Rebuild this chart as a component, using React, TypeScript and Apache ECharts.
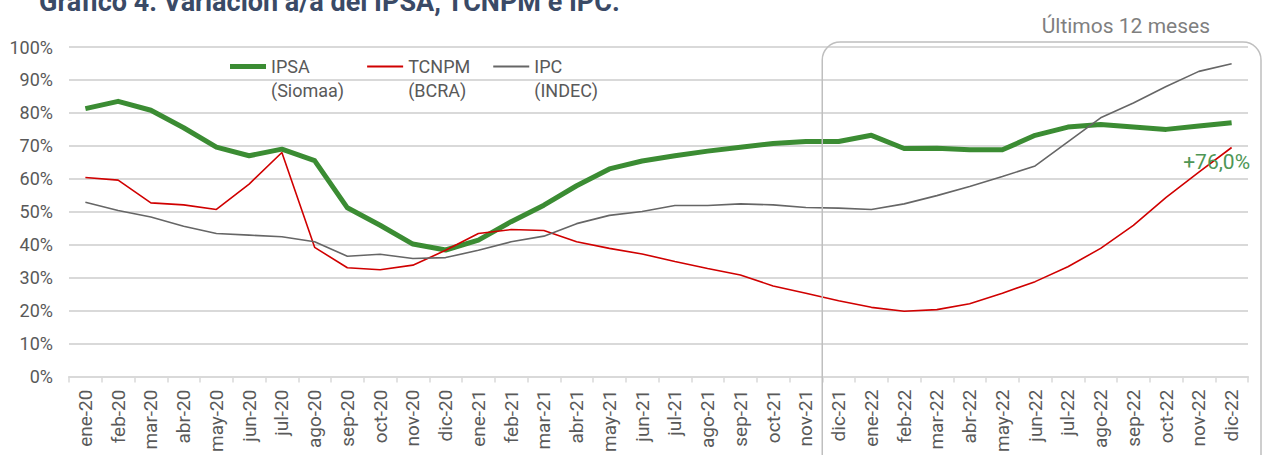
import React, { useEffect, useRef } from "react";
import * as echarts from "echarts";

const months = [
  "ene-20", "feb-20", "mar-20", "abr-20", "may-20", "jun-20", "jul-20", "ago-20", "sep-20", "oct-20", "nov-20", "dic-20",
  "ene-21", "feb-21", "mar-21", "abr-21", "may-21", "jun-21", "jul-21", "ago-21", "sep-21", "oct-21", "nov-21", "dic-21",
  "ene-22", "feb-22", "mar-22", "abr-22", "may-22", "jun-22", "jul-22", "ago-22", "sep-22", "oct-22", "nov-22", "dic-22",
];

const ipsa = [
  81.3, 83.5, 80.8, 75.5, 69.6, 67.0, 69.0, 65.5, 51.2, 45.9, 40.2, 38.4,
  41.4, 47.0, 52.0, 57.9, 63.0, 65.4, 67.0, 68.4, 69.6, 70.7, 71.3, 71.3,
  73.2, 69.2, 69.3, 68.8, 68.8, 73.2, 75.7, 76.5, 75.7, 75.0, 76.0, 77.0,
];

const tcnpm = [
  60.4, 59.6, 52.7, 52.1, 50.7, 58.4, 68.0, 39.2, 33.0, 32.4, 33.8, 38.3,
  43.4, 44.6, 44.3, 40.9, 38.9, 37.2, 34.9, 32.8, 30.8, 27.5, 25.3, 23.0,
  21.0, 19.8, 20.3, 22.1, 25.3, 28.8, 33.3, 38.9, 45.9, 54.4, 62.0, 69.5,
];

const ipc = [
  52.9, 50.4, 48.4, 45.6, 43.4, 42.9, 42.4, 40.9, 36.5, 37.1, 35.8, 36.1,
  38.3, 40.9, 42.6, 46.4, 48.9, 50.1, 51.9, 51.9, 52.4, 52.1, 51.3, 51.1,
  50.7, 52.4, 54.9, 57.7, 60.7, 63.9, 71.2, 78.5, 83.0, 88.0, 92.6, 94.9,
];

const legendNames: Record<string, string> = {
  IPSA: "IPSA\n(Siomaa)",
  TCNPM: "TCNPM\n(BCRA)",
  IPC: "IPC\n(INDEC)",
};

const titleText = "Gráfico 4: Variación a/a del IPSA, TCNPM e IPC.";
const boxText = "Últimos 12 meses";
const endLabel = "+76,0%";

const GREEN = "#3B8C33";
const RED = "#D00000";
const GRAY = "#666666";
const TXT = "#595959";
const GRID = "#D9D9D9";
const FONT = "Roboto";

export default function App() {
  const ref = useRef<HTMLDivElement>(null);

  useEffect(() => {
    const chart = echarts.init(ref.current!, null, { renderer: "svg" });
    const option: any = {
      animation: false,
      grid: { left: 69, right: 16, top: 47, bottom: 76 },
      legend: {
        left: 225,
        top: 49,
        itemWidth: 36,
        itemHeight: 46,
        itemGap: 23,
        symbolKeepAspect: false,
        itemStyle: { borderWidth: 0 },
        textStyle: { fontSize: 18, color: TXT, lineHeight: 24, fontFamily: FONT },
        formatter: (n: string) => legendNames[n] || n,
        data: [
          { name: "IPSA", icon: "path://M0,0M36,46M0,9H36V14H0Z" },
          { name: "TCNPM", icon: "path://M0,0M36,46M0,10.5H36V12.5H0Z" },
          { name: "IPC", icon: "path://M0,0M36,46M0,10.5H36V12.5H0Z" },
        ],
      },
      xAxis: {
        type: "category",
        data: months,
        boundaryGap: true,
        axisLine: { lineStyle: { color: GRID, width: 2 } },
        axisTick: { show: true, length: 6, lineStyle: { color: GRID, width: 1.5 } },
        axisLabel: {
          interval: 0,
          rotate: 90,
          margin: 13,
          fontSize: 19,
          color: TXT,
          fontFamily: FONT,
        },
      },
      yAxis: {
        type: "value",
        min: 0,
        max: 100,
        interval: 10,
        axisLine: { show: false },
        axisTick: { show: false },
        splitLine: { lineStyle: { color: GRID, width: 2 } },
        axisLabel: {
          formatter: "{value}%",
          fontSize: 18,
          color: TXT,
          margin: 16,
          fontFamily: FONT,
        },
      },
      series: [
        {
          name: "IPSA",
          type: "line",
          data: ipsa,
          symbol: "none",
          color: GREEN,
          lineStyle: { width: 5, color: GREEN, join: "round" },
          markPoint: {
            symbol: "circle",
            symbolSize: 1,
            itemStyle: { color: "rgba(0,0,0,0)" },
            data: [{ coord: [months[months.length - 1], ipsa[ipsa.length - 1]] }],
            label: {
              show: true,
              formatter: endLabel,
              position: "bottom",
              offset: [-15, 23],
              color: "#4E9655",
              fontSize: 21,
              fontFamily: FONT,
            },
          },
        },
        {
          name: "TCNPM",
          type: "line",
          data: tcnpm,
          symbol: "none",
          color: RED,
          lineStyle: { width: 1.6, color: RED },
        },
        {
          name: "IPC",
          type: "line",
          data: ipc,
          symbol: "none",
          color: GRAY,
          lineStyle: { width: 1.6, color: GRAY },
        },
      ],
    };
    chart.setOption(option);

    const x0 = chart.convertToPixel({ xAxisIndex: 0 }, months[0]) as number;
    const xN = chart.convertToPixel({ xAxisIndex: 0 }, months[months.length - 1]) as number;
    const band = (xN - x0) / (months.length - 1);
    const boxLeft = (chart.convertToPixel({ xAxisIndex: 0 }, "dic-21") as number) - band / 2;
    const yTop = chart.convertToPixel({ yAxisIndex: 0 }, 100) as number;
    const boxRight = xN + band / 2 + 13;

    chart.setOption({
      graphic: [
        {
          type: "text",
          left: 39,
          top: -12,
          style: {
            text: titleText,
            fontSize: 27,
            fontWeight: "bold",
            fill: "#3A4A66",
            fontFamily: FONT,
          },
        },
        {
          type: "rect",
          shape: { x: boxLeft, y: yTop - 5, width: boxRight - boxLeft, height: 480, r: 18 },
          style: { fill: "none", stroke: "#BFBFBF", lineWidth: 1.5 },
          z: 10,
        },
        {
          type: "text",
          x: boxRight - 51,
          y: 26,
          style: {
            text: boxText,
            fontSize: 21,
            fill: "#7F7F7F",
            fontFamily: FONT,
            align: "right",
            verticalAlign: "middle",
          },
        },
      ],
    });

    return () => chart.dispose();
  }, []);

  return (
    <div
      ref={ref}
      style={{ position: "absolute", left: 0, top: 0, width: 1264, height: 455 }}
    />
  );
}
